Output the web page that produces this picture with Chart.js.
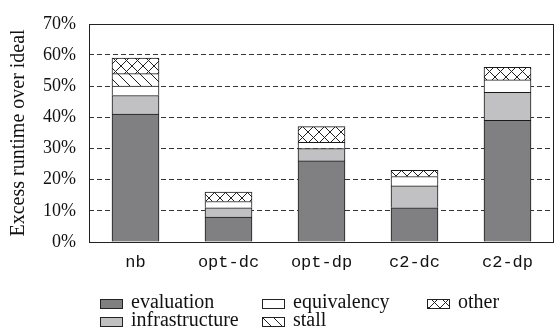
<!DOCTYPE html>
<html>
<head>
<meta charset="utf-8">
<script src="https://cdn.jsdelivr.net/npm/chart.js@4.4.0/dist/chart.umd.min.js"></script>
<style>
html,body{margin:0;padding:0;background:#fff;}
#wrap{position:relative;width:558px;height:336px;}
</style>
</head>
<body>
<div id="wrap"><canvas id="c" width="558" height="336"></canvas></div>
<script>
const categories = ['nb', 'opt-dc', 'opt-dp', 'c2-dc', 'c2-dp'];
const evaluation = [41, 8, 26, 11, 39];
const infrastructure = [6, 3, 4, 7, 9];
const equivalency = [3, 2, 2, 3, 4];
const stall = [4, 0, 0, 0, 0];
const other = [5, 3, 5, 2, 4];
const yTicks = [0, 10, 20, 30, 40, 50, 60, 70];
const yTitle = 'Excess runtime over ideal';

function makePattern(kind) {
  const s = 11;
  const c = document.createElement('canvas');
  c.width = s; c.height = s;
  const g = c.getContext('2d');
  g.fillStyle = '#fff';
  g.fillRect(0, 0, s, s);
  g.strokeStyle = '#222';
  g.lineWidth = 1;
  g.beginPath();
  g.moveTo(0, 0); g.lineTo(s, s);
  g.moveTo(-1, s - 1); g.lineTo(1, s + 1);
  g.moveTo(s - 1, -1); g.lineTo(s + 1, 1);
  if (kind === 'cross') {
    g.moveTo(s, 0); g.lineTo(0, s);
    g.moveTo(-1, 1); g.lineTo(1, -1);
    g.moveTo(s - 1, s + 1); g.lineTo(s + 1, s - 1);
  }
  g.stroke();
  return g.createPattern(c, 'repeat');
}

const serif = '"Liberation Serif", "DejaVu Serif", serif';
const mono = '"Liberation Mono", "DejaVu Sans Mono", monospace';

const series = [
  { label: 'evaluation', data: evaluation, bg: '#808083' },
  { label: 'infrastructure', data: infrastructure, bg: '#c1c1c3' },
  { label: 'equivalency', data: equivalency, bg: '#ffffff' },
  { label: 'stall', data: stall, bg: makePattern('diag') },
  { label: 'other', data: other, bg: makePattern('cross') }
];

const frame = {
  id: 'frame',
  afterDatasetsDraw(chart) {
    const a = chart.chartArea, g = chart.ctx;
    g.save();
    g.strokeStyle = '#222';
    g.lineWidth = 1;
    g.strokeRect(Math.round(a.left) + 0.5, Math.round(a.top) + 0.5,
                 Math.round(a.right - a.left) - 1, Math.round(a.bottom - a.top));
    g.restore();
  }
};

// column-major legend: 3 columns, 2 rows
const legendGrid = {
  id: 'legendGrid',
  afterDraw(chart) {
    const g = chart.ctx;
    const cols = [100, 262, 427];
    const rows = [303, 321];
    const boxW = 22, boxH = 9, gap = 9;
    g.save();
    g.font = '20px ' + serif;
    g.textBaseline = 'middle';
    chart.data.datasets.forEach((ds, i) => {
      const col = Math.floor(i / 2), row = i % 2;
      const x = cols[col], y = rows[row];
      const top = Math.round(y - boxH / 2);
      g.fillStyle = ds.backgroundColor;
      g.fillRect(x, top, boxW, boxH);
      g.strokeStyle = '#222';
      g.lineWidth = 1;
      g.strokeRect(x + 0.5, top + 0.5, boxW, boxH);
      g.fillStyle = '#111';
      g.fillText(ds.label, x + boxW + gap, y);
    });
    g.restore();
  }
};

new Chart(document.getElementById('c'), {
  type: 'bar',
  data: {
    labels: categories,
    datasets: series.map(s => ({
      label: s.label,
      data: s.data,
      backgroundColor: s.bg,
      borderColor: '#1a1a1a',
      borderWidth: 1,
      barThickness: 47
    }))
  },
  options: {
    responsive: false,
    animation: false,
    devicePixelRatio: 1,
    layout: { padding: { left: 7, right: 4, top: 12, bottom: 64 } },
    plugins: { legend: { display: false }, tooltip: { enabled: false } },
    scales: {
      x: {
        stacked: true,
        grid: { display: false, drawTicks: false },
        border: { display: false },
        ticks: { color: '#111', font: { family: mono, size: 17 }, padding: 10 },
        afterFit(scale) { scale.height = 30; }
      },
      y: {
        stacked: true,
        min: 0, max: 70,
        afterBuildTicks(scale) { scale.ticks = yTicks.map(v => ({ value: v })); },
        grid: {
          drawTicks: false,
          color: ctx => (ctx.tick && (ctx.tick.value === 0 || ctx.tick.value === 70)) ? 'rgba(0,0,0,0)' : '#333',
          lineWidth: 1
        },
        border: { display: false, dash: [5, 3] },
        ticks: {
          color: '#111',
          font: { family: serif, size: 18 },
          padding: 13,
          callback: v => v + '%'
        },
        title: {
          display: true,
          text: yTitle,
          color: '#111',
          font: { family: serif, size: 20 },
          padding: { top: 0, bottom: 2 }
        },
        afterFit(scale) { scale.width = 82; }
      }
    }
  },
  plugins: [frame, legendGrid]
});
</script>
</body>
</html>
